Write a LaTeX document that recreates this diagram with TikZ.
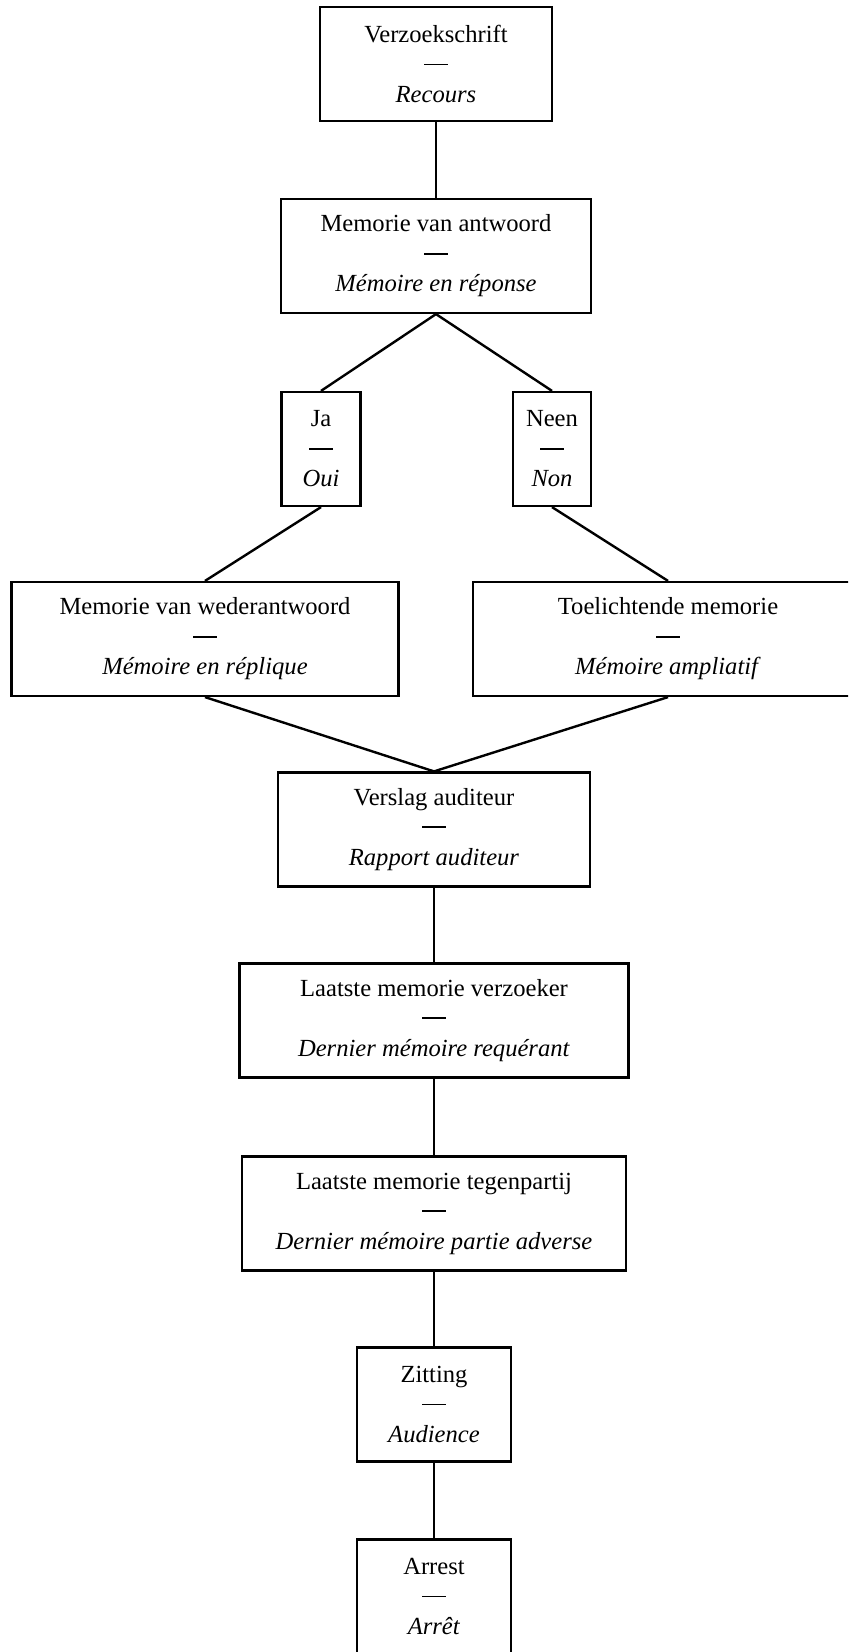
\documentclass[tikz,border=0pt]{standalone}
\usepackage{fontspec}
\setmainfont{Liberation Serif}
\usepackage{tikz}
\newcommand{\stagedash}{\rule[3.6pt]{12pt}{0.9pt}}

\begin{document}
\begin{tikzpicture}[x=0.5pt,y=-0.5pt]
\tikzset{stage/.style={draw=black,line width=1.1pt,inner sep=0pt,minimum height=57pt,align=center,font=\fontsize{12.3}{15}\selectfont},
link/.style={black,line width=1.2pt}}
\useasboundingbox (0,0) rectangle (848,1652);
\clip (0,0) rectangle (848,1652);
\node [stage,minimum width=116pt] (verzoek) at (436,64) {Verzoekschrift\\\stagedash\\\textit{Recours}};
\node [stage,minimum width=155pt] (antwoord) at (436,256) {Memorie van antwoord\\\stagedash\\\textit{Mémoire en réponse}};
\node [stage,minimum width=39.5pt] (ja) at (321,449) {Ja\\\stagedash\\\textit{Oui}};
\node [stage,minimum width=39pt] (neen) at (552,449) {Neen\\\stagedash\\\textit{Non}};
\node [stage,minimum width=193.5pt] (weder) at (205,639) {Memorie van wederantwoord\\\stagedash\\\textit{Mémoire en réplique}};
\node [stage,minimum width=195pt] (toelicht) at (668,639) {Toelichtende memorie\\\stagedash\\\textit{Mémoire ampliatif}};
\node [stage,minimum width=156pt] (verslag) at (434,829.5) {Verslag auditeur\\\stagedash\\\textit{Rapport auditeur}};
\node [stage,minimum width=194.5pt] (laatstev) at (434,1020.5) {Laatste memorie verzoeker\\\stagedash\\\textit{Dernier mémoire requérant}};
\node [stage,minimum width=192pt] (laatstet) at (434,1213.5) {Laatste memorie tegenpartij\\\stagedash\\\textit{Dernier mémoire partie adverse}};
\node [stage,minimum width=77pt] (zitting) at (434,1404.5) {Zitting\\\stagedash\\\textit{Audience}};
\node [stage,minimum width=77pt] (arrest) at (434,1596.5) {Arrest\\\stagedash\\\textit{Arrêt}};
\draw [link] (verzoek.south) -- (antwoord.north);
\draw [link] (antwoord.south) -- (ja.north);
\draw [link] (antwoord.south) -- (neen.north);
\draw [link] (ja.south) -- (weder.north);
\draw [link] (neen.south) -- (toelicht.north);
\draw [link] (weder.south) -- (verslag.north);
\draw [link] (toelicht.south) -- (verslag.north);
\draw [link] (verslag.south) -- (laatstev.north);
\draw [link] (laatstev.south) -- (laatstet.north);
\draw [link] (laatstet.south) -- (zitting.north);
\draw [link] (zitting.south) -- (arrest.north);
\end{tikzpicture}
\end{document}
